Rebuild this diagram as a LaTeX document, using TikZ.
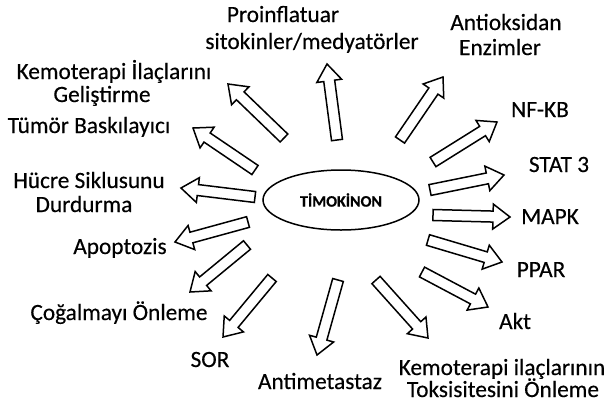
\documentclass[tikz,border=0pt]{standalone}
\usepackage{fontspec}
\setmainfont{Carlito}
\newfontfamily\lblfont[FakeBold=0.35]{Carlito}
\newfontfamily\timfont[UprightFont={* Bold},FakeBold=0.6]{Carlito}
\usetikzlibrary{calc,shapes.geometric}
\tikzset{
  fatarrow/.style={draw=black, fill=white, line width=1.5pt, line join=miter},
  lbl/.style={anchor=base, inner sep=0pt, text=black, font=\lblfont\fontsize{23.3}{27}\selectfont},
  center/.style={draw=black, line width=1.5pt, ellipse, minimum width=156pt, minimum height=60pt, inner sep=0pt, font=\timfont\fontsize{16}{18}\selectfont}
}
\newcommand\fatarr[2]{%
  \coordinate (#1h) at ($(#2)!17pt!(#1)$);
  \draw[fatarrow] ($(#1)!5.5pt!90:(#2)$) -- ($(#1h)!5.5pt!-90:(#1)$) -- ($(#1h)!12.5pt!-90:(#1)$) -- (#2) -- ($(#1h)!12.5pt!90:(#1)$) -- ($(#1h)!5.5pt!90:(#1)$) -- ($(#1)!5.5pt!-90:(#2)$) -- cycle;}
\begin{document}
\begin{tikzpicture}[x=1pt,y=-1pt]
\useasboundingbox (0,0) rectangle (607,405);
\node[center] (tim) at (341,200) {TİMOKİNON};
% arrow tails and tips
\coordinate (t1) at (337,140);  \coordinate (p1) at (327,64);
\coordinate (t2) at (400,140);  \coordinate (p2) at (443,77);
\coordinate (t3) at (433,162);  \coordinate (p3) at (497,122);
\coordinate (t4) at (430,190);  \coordinate (p4) at (504,175);
\coordinate (t5) at (433,215);  \coordinate (p5) at (510,217);
\coordinate (t6) at (428,240);  \coordinate (p6) at (502,262);
\coordinate (t7) at (422,272);  \coordinate (p7) at (488,307);
\coordinate (t8) at (376,280);  \coordinate (p8) at (428,338);
\coordinate (t9) at (338,280);  \coordinate (p9) at (317,355);
\coordinate (t10) at (272,278); \coordinate (p10) at (223,337);
\coordinate (t11) at (247,245); \coordinate (p11) at (190,292);
\coordinate (t12) at (248,222); \coordinate (p12) at (175,242);
\coordinate (t13) at (255,197); \coordinate (p13) at (181,188);
\coordinate (t14) at (255,170); \coordinate (p14) at (193,128);
\coordinate (t15) at (284,138); \coordinate (p15) at (228,84);
\foreach \i in {1,...,15}{\fatarr{t\i}{p\i}}
% labels
\node[lbl] (l1a) at (283,22) {Proinflatuar};
\node[lbl] (l1b) at (312,49) {sitokinler/medyatörler};
\node[lbl] (l2a) at (506,30) {Antioksidan};
\node[lbl] (l2b) at (500,55) {Enzimler};
\node[lbl] (l3) at (540,117) {NF-KB};
\node[lbl] (l4) at (559,172) {STAT 3};
\node[lbl] (l5) at (550,224) {MAPK};
\node[lbl] (l6) at (541,277) {PPAR};
\node[lbl] (l7) at (515,329) {Akt};
\node[lbl] (l8a) at (502,375) {Kemoterapi ilaçlarının};
\node[lbl] (l8b) at (503,397) {Toksisitesini Önleme};
\node[lbl] (l9) at (320,389) {Antimetastaz};
\node[lbl] (l10) at (210,367) {SOR};
\node[lbl] (l11) at (119,320) {Çoğalmayı Önleme};
\node[lbl] (l12) at (120,254) {Apoptozis};
\node[lbl] (l13a) at (89,188) {Hücre Siklusunu};
\node[lbl] (l13b) at (84,212) {Durdurma};
\node[lbl] (l14) at (89,133) {Tümör Baskılayıcı};
\node[lbl] (l15a) at (114,79) {Kemoterapi İlaçlarını};
\node[lbl] (l15b) at (102,102) {Geliştirme};
\end{tikzpicture}
\end{document}
